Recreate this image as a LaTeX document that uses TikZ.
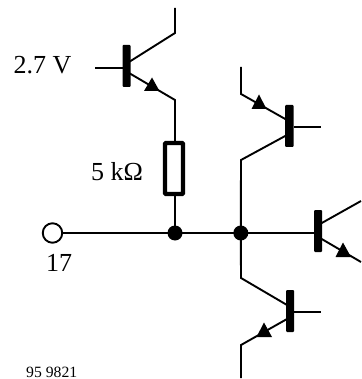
\documentclass[tikz,border=0pt]{standalone}
\usepackage{fontspec}
\setmainfont{Liberation Serif}
\tikzset{
  wire/.style={line width=1.9pt,line cap=butt,line join=miter},
  barbase/.style={fill=black,rounded corners=1pt},
  tri/.style={fill=black},
  dot/.style={circle,fill=black,inner sep=0pt,minimum size=15pt},
  lab/.style={inner sep=0pt,anchor=base west,font=\fontsize{26}{26}\selectfont},
  small/.style={inner sep=0pt,anchor=base west,font=\fontsize{15.7}{16}\selectfont}
}
\begin{document}
\begin{tikzpicture}[x=1pt,y=-1pt]
\useasboundingbox (0,0) rectangle (361,379);
% nodes
\node[dot] (j1) at (175,233) {};
\node[dot] (j2) at (240.8,233) {};
\node[circle,draw,line width=1.9pt,fill=white,inner sep=0pt,minimum size=19.5pt] (in) at (52.5,233) {};
\node[draw,line width=4.4pt,rounded corners=1pt,inner sep=0pt,minimum width=18pt,minimum height=51pt] (r) at (174,168.5) {};
% wires
\draw[wire] (in.east) -- (j1.center) -- (j2.center) -- (314,233);
\draw[wire] (175,196) -- (j1.center);
% Q1
\draw[wire] (175,8) -- (175,33) -- (129,62);
\draw[wire] (95,68) -- (126,68);
\draw[wire] (129,73) -- (175,100) -- (175,141);
\fill[barbase] (122.5,45) rectangle (130.5,87);
\fill[tri] (152,77.5) -- (144,91) -- (159.5,91) -- cycle;
% Q2
\draw[wire] (241,67) -- (241,94) -- (287,120);
\draw[wire] (294,127) -- (321,127);
\draw[wire] (287,135) -- (241,160) -- (j2.center);
\fill[barbase] (285,105) rectangle (293.5,147);
\fill[tri] (259,94.5) -- (251.5,109) -- (266.5,109) -- cycle;
% Q3
\draw[wire] (320,224) -- (361,201);
\draw[wire] (320,238) -- (361,262);
\fill[barbase] (314,210) rectangle (322,252);
\fill[tri] (343,242.5) -- (335.5,257) -- (351,257) -- cycle;
% Q4
\draw[wire] (j2.center) -- (241,278) -- (287,305);
\draw[wire] (294,312) -- (321,312);
\draw[wire] (287,319) -- (241,345) -- (241,378);
\fill[barbase] (286,290) rectangle (294,332);
\fill[tri] (264,322.5) -- (256.5,337) -- (272,337) -- cycle;
% labels
\node[lab] (t1) at (13.5,74) {2.7 V};
\node[lab] (t2) at (91,180) {5 k\symbol{"03A9}};
\node[lab] (t3) at (46,271.5) {17};
\node[small] (t4) at (26,377) {95 9821};
\end{tikzpicture}
\end{document}
